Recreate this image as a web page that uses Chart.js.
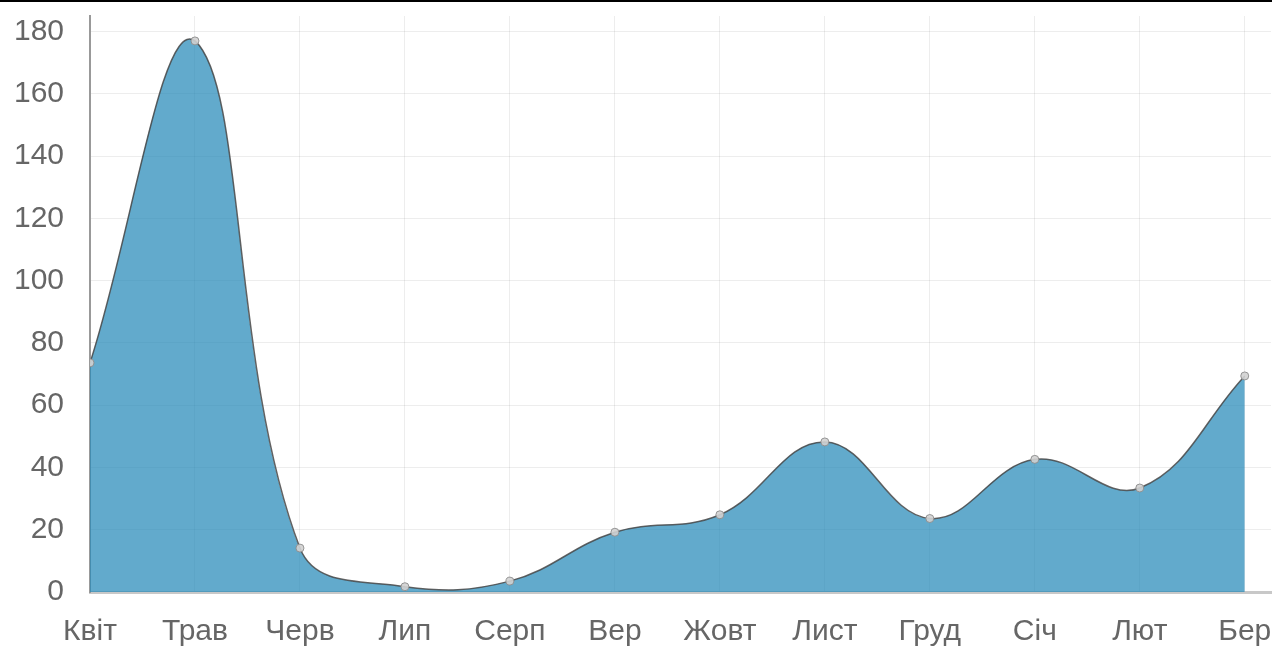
<!DOCTYPE html>
<html>
<head>
<meta charset="utf-8">
<script src="https://cdn.jsdelivr.net/npm/chart.js@4.4.0/dist/chart.umd.min.js"></script>
<style>
  html, body { margin: 0; padding: 0; background: #fff; }
  #wrap { position: relative; width: 1276px; height: 646px; }
  #topline { position: absolute; left: 0; top: 0; width: 1272px; height: 2px; background: #000; }
</style>
</head>
<body>
<div id="wrap">
  <canvas id="chart" width="1276" height="646"></canvas>
  <div id="topline"></div>
</div>
<script>
const MONTHS = ['Квіт', 'Трав', 'Черв', 'Лип', 'Серп', 'Вер', 'Жовт', 'Лист', 'Груд', 'Січ', 'Лют', 'Бер'];
const VALUES = [73.6, 177, 14.1, 1.7, 3.5, 19.2, 24.8, 48.2, 23.6, 42.6, 33.4, 69.4];
const Y_TICKS = [0, 20, 40, 60, 80, 100, 120, 140, 160, 180];

const FONT = { family: '"Liberation Sans", Arial, sans-serif', size: 30 };

const ctx = document.getElementById('chart');

new Chart(ctx, {
  type: 'line',
  data: {
    datasets: [{
      data: VALUES.map((v, i) => ({ x: i, y: v })),
      fill: 'origin',
      backgroundColor: 'rgba(31,134,182,0.7)',
      borderColor: 'rgba(70,70,70,0.85)',
      borderWidth: 1.5,
      tension: 0.4,
      pointRadius: 4,
      pointBackgroundColor: 'rgba(210,210,210,0.9)',
      pointBorderColor: 'rgba(140,140,140,0.9)',
      pointBorderWidth: 1,
    }],
  },
  options: {
    responsive: false,
    animation: false,
    layout: { padding: { top: 16, right: 0, left: 0, bottom: 0 } },
    scales: {
      x: {
        type: 'linear',
        min: 0,
        max: 11.25,
        afterFit: s => {
          s.height = 54;
          s.paddingLeft = 0;
          s.paddingRight = 0;
        },
        border: { color: '#c8c8c8', width: 3 },
        grid: { color: 'rgba(0,0,0,0.07)', drawTicks: false },
        ticks: {
          stepSize: 1,
          includeBounds: false,
          autoSkip: false,
          maxRotation: 0,
          padding: 22,
          color: '#666',
          font: FONT,
          callback: v => MONTHS[v] ?? '',
        },
      },
      y: {
        min: 0,
        max: 185,
        afterFit: s => {
          s.width = 90;
          s.paddingTop = 0;
          s.paddingBottom = 0;
        },
        afterBuildTicks: s => { s.ticks = Y_TICKS.map(v => ({ value: v })); },
        border: { color: '#999', width: 2 },
        grid: { color: 'rgba(0,0,0,0.07)', drawTicks: false },
        ticks: {
          padding: 26,
          color: '#666',
          font: FONT,
        },
      },
    },
    plugins: {
      legend: { display: false },
      tooltip: { enabled: false },
    },
  },
});
</script>
</body>
</html>
